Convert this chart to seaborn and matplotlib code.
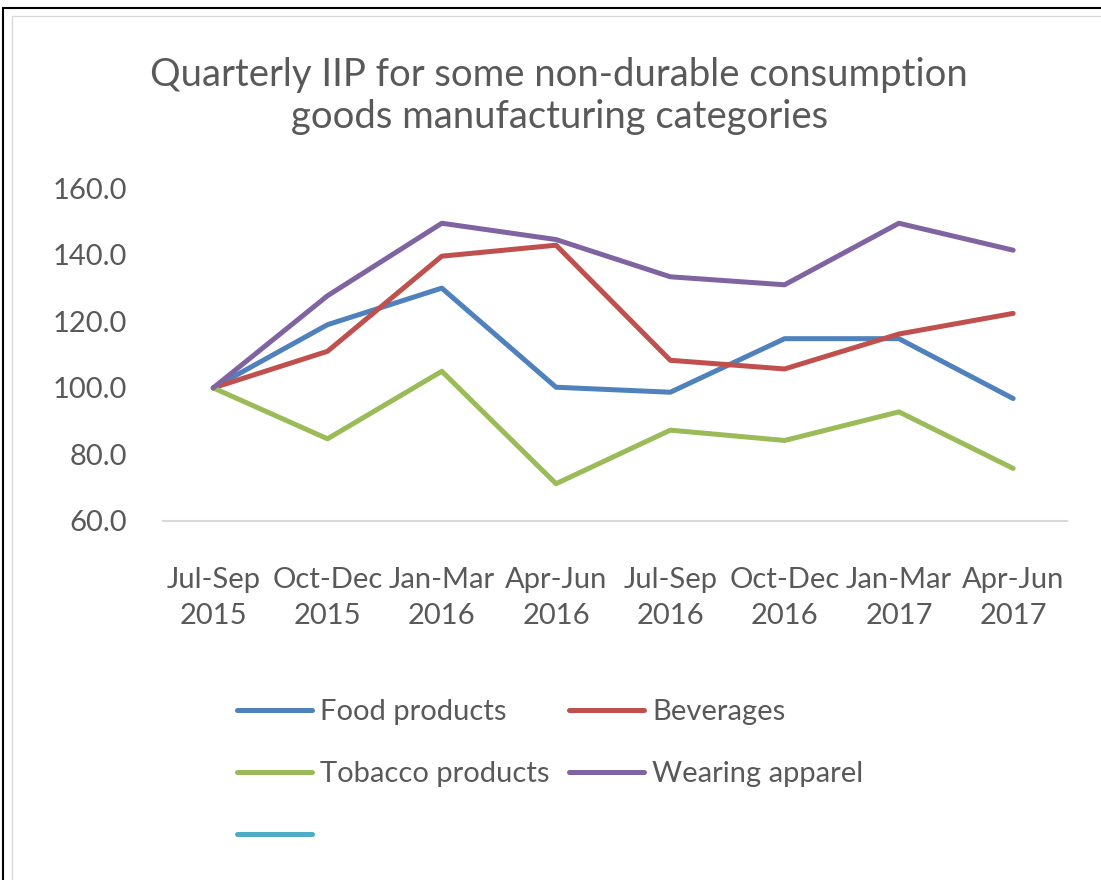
import matplotlib
matplotlib.use("Agg")
import matplotlib.pyplot as plt
from matplotlib.lines import Line2D
import seaborn as sns
import pandas as pd

quarters = ["Jul-Sep\n2015", "Oct-Dec\n2015", "Jan-Mar\n2016", "Apr-Jun\n2016",
            "Jul-Sep\n2016", "Oct-Dec\n2016", "Jan-Mar\n2017", "Apr-Jun\n2017"]
food = [100.0, 119.0, 130.0, 100.2, 98.7, 114.8, 114.8, 96.8]
beverages = [100.0, 111.0, 139.6, 142.9, 108.3, 105.7, 116.2, 122.4]
tobacco = [100.0, 84.7, 105.0, 71.2, 87.3, 84.2, 92.8, 75.8]
apparel = [100.0, 127.7, 149.5, 144.6, 133.4, 131.0, 149.5, 141.4]
series_names = ["Food products", "Beverages", "Tobacco products", "Wearing apparel"]
colors = ["#4F81BD", "#C0504D", "#9BBB59", "#8064A2"]
extra_color = "#4BACC6"
yticks = [60, 80, 100, 120, 140, 160]

rows = []
for name, vals in zip(series_names, [food, beverages, tobacco, apparel]):
    for i, v in enumerate(vals):
        rows.append({"x": i, "value": v, "series": name})
df = pd.DataFrame(rows)

sns.set_theme(style="white")
plt.rcParams["font.family"] = ["Lato", "DejaVu Sans"]
text_color = "#595959"

fig = plt.figure(figsize=(11.01, 8.8), dpi=100, facecolor="white")
ax = fig.add_axes([0.148, 0.408, 0.821, 0.378])
sns.lineplot(data=df, x="x", y="value", hue="series", hue_order=series_names,
             palette=colors, linewidth=3.6, ax=ax, legend=False)

ax.set_ylim(60, 160)
ax.set_xlim(-0.44, 7.47)
ax.set_yticks(yticks)
ax.set_yticklabels([f"{t:.1f}" for t in yticks])
ax.set_xticks(range(len(quarters)))
ax.set_xticklabels(quarters, linespacing=1.5)
ax.tick_params(axis="both", length=0, colors=text_color, labelsize=21)
ax.tick_params(axis="y", pad=26)
ax.tick_params(axis="x", pad=33)
ax.set_xlabel("")
ax.set_ylabel("")
for s in ["top", "right", "left"]:
    ax.spines[s].set_visible(False)
ax.spines["bottom"].set_color("#D9D9D9")
ax.spines["bottom"].set_linewidth(1.5)

fig.text(0.508, 0.891, "Quarterly IIP for some non-durable consumption\ngoods manufacturing categories",
         ha="center", va="center", fontsize=27.5, color=text_color, linespacing=1.2)

handles = [Line2D([], [], color=c, linewidth=3.6) for c in colors]
extra = Line2D([], [], color=extra_color, linewidth=3.6)
labels = series_names
order_h = [handles[0], handles[2], extra, handles[1], handles[3]]
order_l = [labels[0], labels[2], "", labels[1], labels[3]]
leg = fig.legend(order_h, order_l, ncol=2, loc="upper left",
                 bbox_to_anchor=(0.215, 0.206), frameon=False,
                 fontsize=21, handlelength=2.57, handletextpad=0.27,
                 columnspacing=0.7, labelspacing=1.24, borderpad=0,
                 borderaxespad=0)
for t in leg.get_texts():
    t.set_color(text_color)

# frame lines of the original screenshot
fig.add_artist(Line2D([0.003, 1.0], [0.991, 0.991], color="black", linewidth=1.5, transform=fig.transFigure))
fig.add_artist(Line2D([0.003, 0.003], [0.0, 0.991], color="black", linewidth=1.5, transform=fig.transFigure))
fig.add_artist(Line2D([0.011, 1.0], [0.982, 0.982], color="#D9D9D9", linewidth=1.0, transform=fig.transFigure))
fig.add_artist(Line2D([0.011, 0.011], [0.0, 0.982], color="#D9D9D9", linewidth=1.0, transform=fig.transFigure))

fig.savefig("out.png", dpi=100, facecolor="white")
